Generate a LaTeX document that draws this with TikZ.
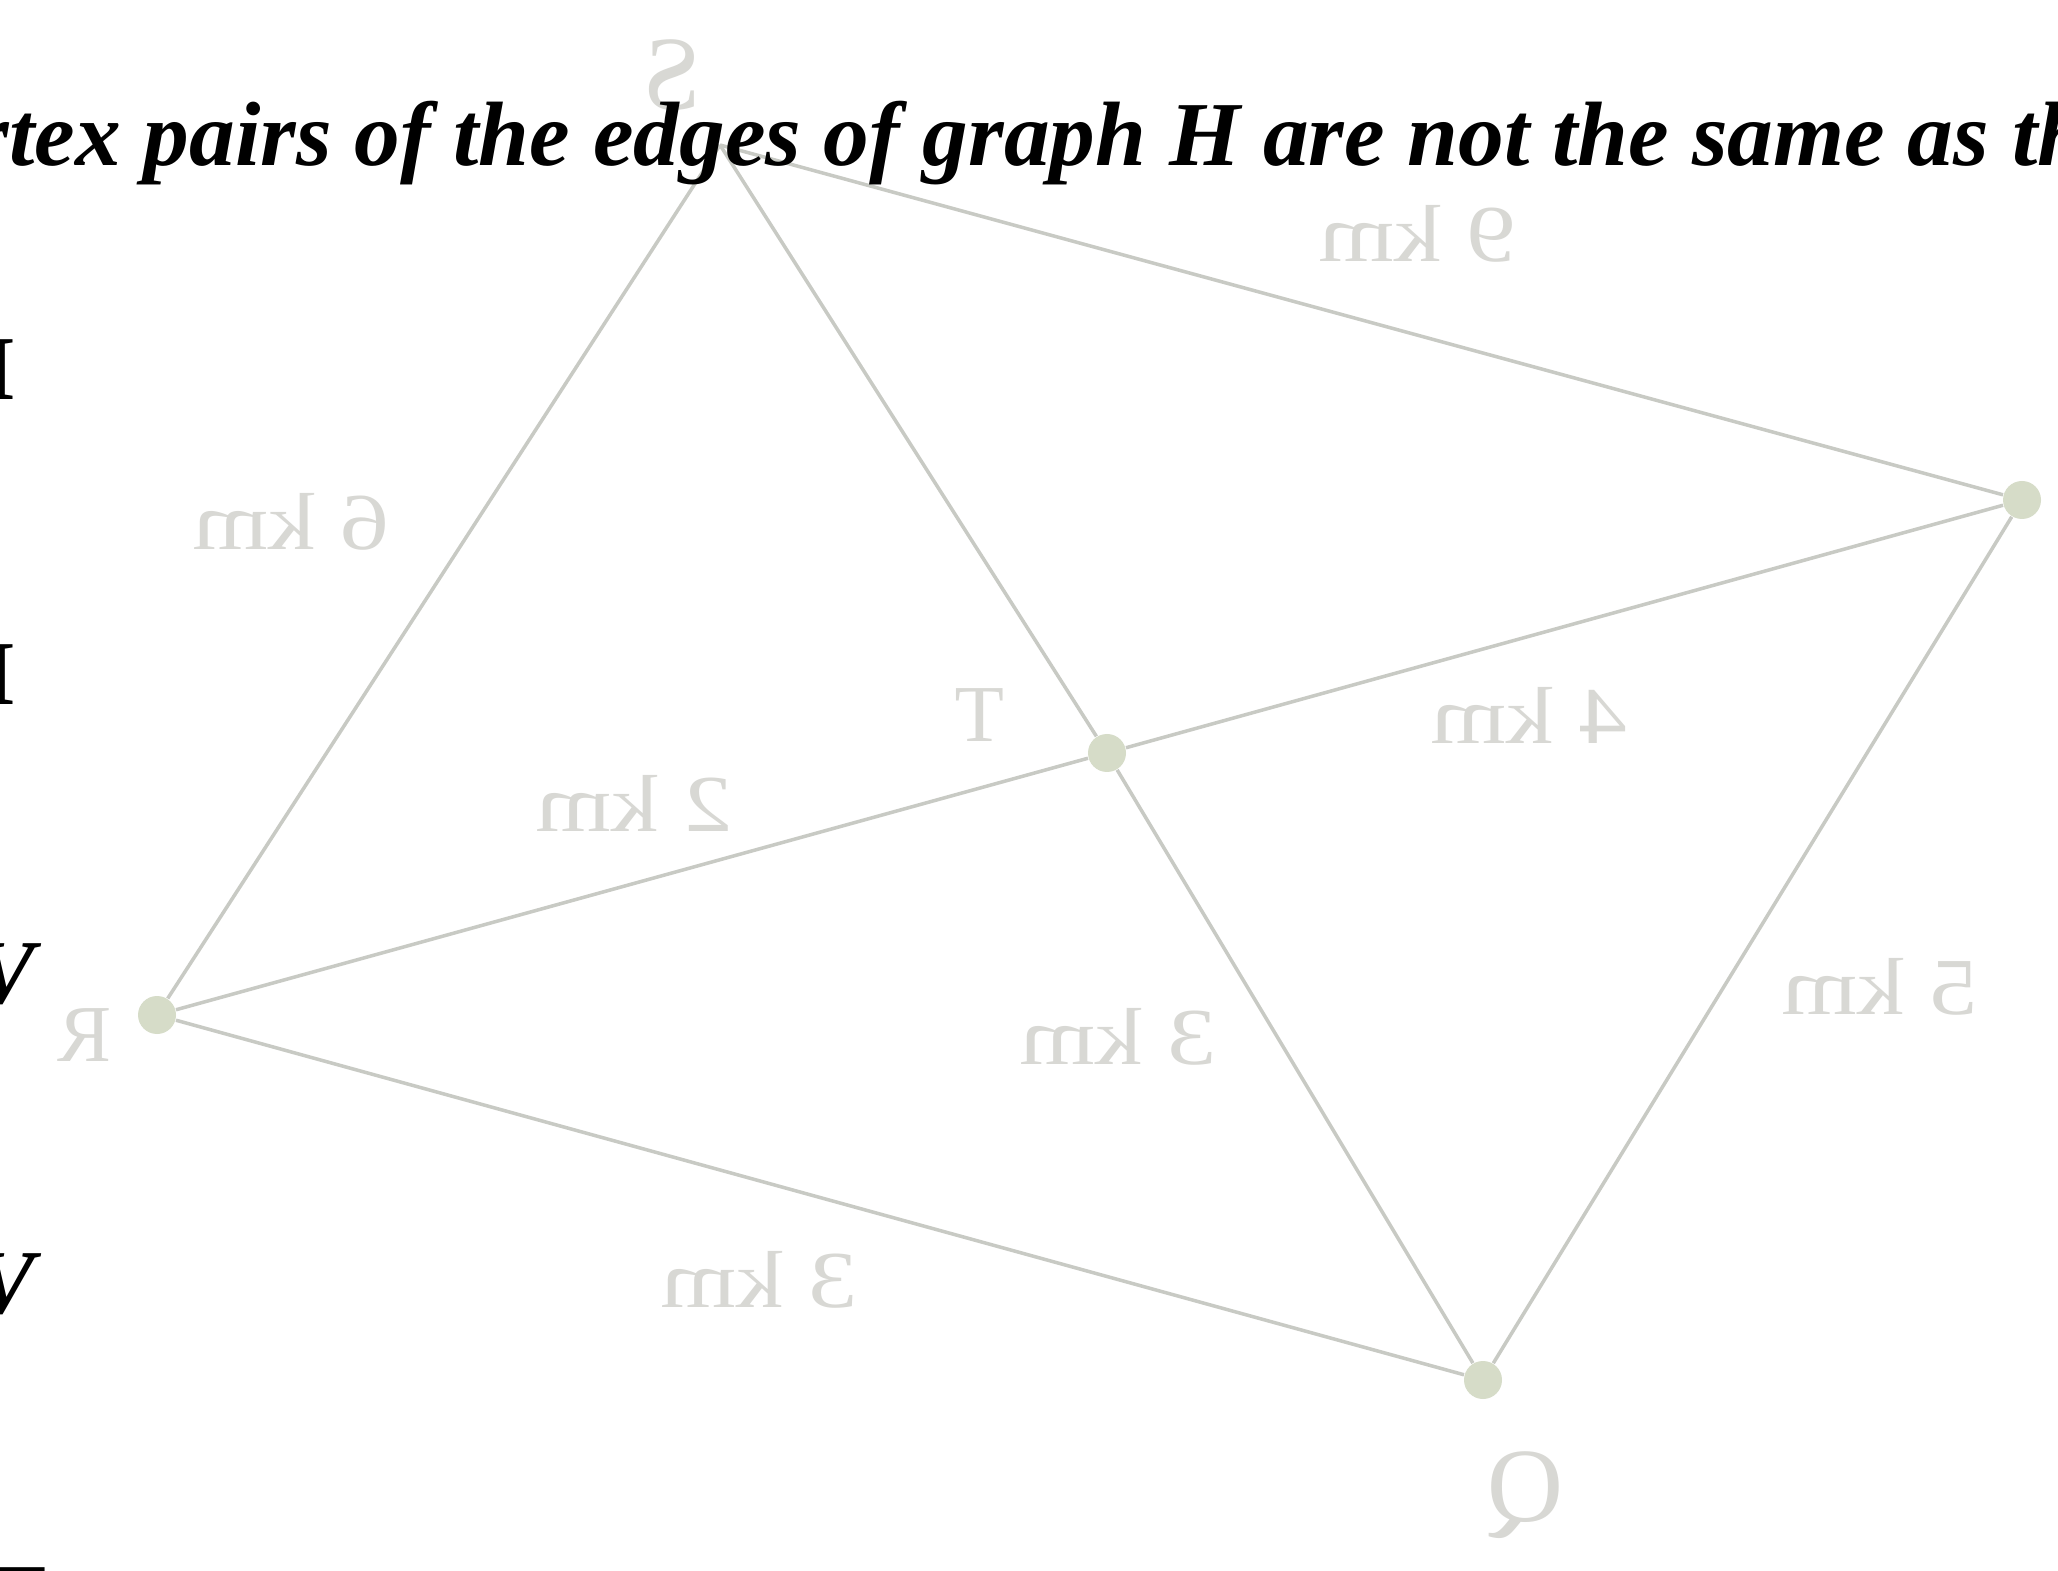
\documentclass[tikz,border=0pt]{standalone}
\usepackage{fontspec}
\setmainfont{Liberation Serif}
\usepackage{graphicx}
\definecolor{edgecol}{RGB}{200,202,196}
\definecolor{lblcol}{RGB}{216,216,212}
\definecolor{vtxcol}{RGB}{214,220,200}
\newcommand{\mirtext}[1]{\scalebox{-1.2}[1]{#1}}
\begin{document}
\begin{tikzpicture}[
  graphedge/.style={draw=edgecol, line width=1pt},
  vtx/.style={circle, fill=vtxcol, minimum size=0.38cm, inner sep=0pt},
  lbl/.style={text=lblcol, inner sep=0pt, font=\fontsize{23}{23}\selectfont},
  biglbl/.style={text=lblcol, inner sep=0pt, font=\fontsize{30}{30}\selectfont},
  maintext/.style={text=black, inner sep=0pt, font=\fontsize{26}{26}\selectfont\bfseries\itshape},
  margin/.style={text=black, inner sep=0pt, font=\fontsize{26}{26}\selectfont\bfseries}
]
\fill[white] (0,0) rectangle (20.58,-15.71);
\useasboundingbox (0,0) rectangle (20.58,-15.71);

% vertices
\coordinate (S) at (7.20,-1.45);
\node[vtx] (R) at (20.22,-5.00) {};
\node[vtx] (T) at (11.07,-7.53) {};
\node[vtx] (A) at (1.57,-10.15) {};
\node[vtx] (Q) at (14.83,-13.80) {};

% edges
\draw[graphedge] (A) -- (S);
\draw[graphedge] (S) -- (T);
\draw[graphedge] (S) -- (R);
\draw[graphedge] (A) -- (T);
\draw[graphedge] (T) -- (R);
\draw[graphedge] (A) -- (Q);
\draw[graphedge] (T) -- (Q);
\draw[graphedge] (R) -- (Q);

% mirrored (show-through) labels
\node[lbl] (l6) at (2.91,-5.22) {\mirtext{6 km}};
\node[lbl] (l2) at (6.34,-8.03) {\mirtext{2 km}};
\node[lbl] (l9) at (14.17,-2.34) {\mirtext{9 km}};
\node[lbl] (l4) at (15.29,-7.15) {\mirtext{4 km}};
\node[lbl] (l3a) at (11.18,-10.37) {\mirtext{3 km}};
\node[lbl] (l5) at (18.80,-9.87) {\mirtext{5 km}};
\node[lbl] (l3b) at (7.59,-12.80) {\mirtext{3 km}};
\node[lbl] (nT) at (9.80,-7.15) {\reflectbox{T}};
\node[biglbl] (nS) at (6.72,-0.75) {\reflectbox{S}};
\node[lbl] (nR) at (0.85,-10.35) {\reflectbox{R}};
\node[biglbl] (nQ) at (15.25,-14.95) {\reflectbox{Q}};

% main printed line
\node[maintext, anchor=base west] (line) at (-0.27,-1.66)
  {rtex pairs of the edges of graph H are not the same as th};

% letters cut by the left edge
\node[margin, anchor=base east] (m1) at (0.17,-4.00) {I};
\node[margin, anchor=base east] (m2) at (0.17,-7.05) {I};
\node[maintext, anchor=base east] (m3) at (0.36,-10.03) {V};
\node[maintext, anchor=base east] (m4) at (0.36,-13.13) {V};
\node[margin, anchor=base west] (m5) at (-0.15,-16.27) {T};
\end{tikzpicture}
\end{document}
